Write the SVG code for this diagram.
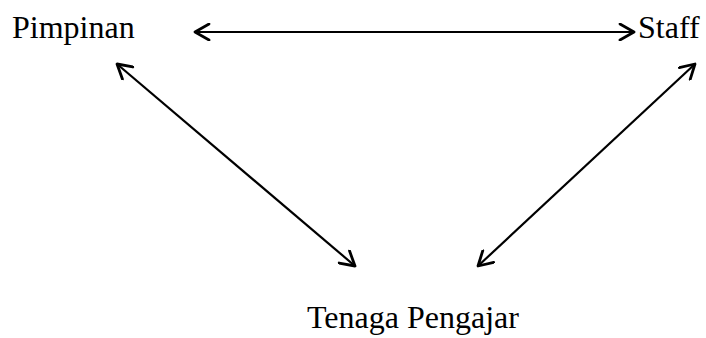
<svg xmlns="http://www.w3.org/2000/svg" width="706" height="338" viewBox="0 0 706 338">
<style>
text{font-family:"Liberation Serif","Times New Roman",serif;font-size:32px;fill:#000}
.c{stroke:#000;stroke-width:2.2;fill:none}
</style>
<defs>
<marker id="ah" viewBox="-16 -9 18 18" refX="0" refY="0" markerWidth="18" markerHeight="18" markerUnits="userSpaceOnUse" orient="auto-start-reverse">
<path d="M-14,-8 L0,0 L-14,8" fill="none" stroke="#000" stroke-width="2.8" stroke-linecap="round" stroke-linejoin="round"/>
</marker>
</defs>
<rect width="706" height="338" fill="#fff"/>
<g id="pimpinan"><text x="12" y="38">Pimpinan</text></g>
<g id="staff"><text x="638" y="38">Staff</text></g>
<g id="tenaga-pengajar"><text x="307" y="328">Tenaga Pengajar</text></g>
<g id="connectors">
<line class="c" x1="195" y1="32" x2="634" y2="32" marker-start="url(#ah)" marker-end="url(#ah)"/>
<line class="c" x1="117" y1="64" x2="355" y2="266" marker-start="url(#ah)" marker-end="url(#ah)"/>
<line class="c" x1="695" y1="64" x2="478" y2="266" marker-start="url(#ah)" marker-end="url(#ah)"/>
</g>
</svg>
